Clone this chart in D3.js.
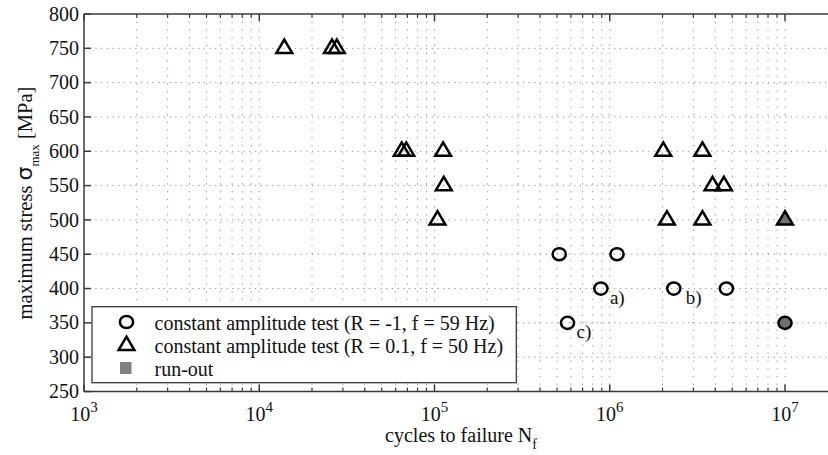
<!DOCTYPE html>
<html>
<head>
<meta charset="utf-8">
<script src="https://cdn.jsdelivr.net/npm/d3@7"></script>
<style>
  body { margin: 0; background: #fff; }
  svg { display: block; }
  text { font-family: "Liberation Serif", "Times New Roman", serif; fill: #111; }
</style>
</head>
<body>
<script>
// R = -1, f = 59 Hz
var circleCycles = [5.15e5, 1.1e6, 8.9e5, 2.32e6, 4.63e6, 5.74e5];
var circleStress = [450, 450, 400, 400, 400, 350];
var circleNotes = ["", "", "a)", "b)", "", "c)"];
// R = 0.1, f = 50 Hz
var triCycles = [1.39e4, 2.6e4, 2.77e4, 6.5e4, 6.9e4, 1.12e5, 1.13e5, 1.04e5, 2.02e6, 3.38e6, 3.86e6, 4.48e6, 2.12e6, 3.38e6];
var triStress = [750, 750, 750, 600, 600, 600, 550, 500, 600, 600, 550, 550, 500, 500];
// run-outs
var runoutCircle = [[1e7, 350]];
var runoutTri = [[1e7, 500]];

var yTicks = [250, 300, 350, 400, 450, 500, 550, 600, 650, 700, 750, 800];
var xDecades = [1e3, 1e4, 1e5, 1e6, 1e7];
var legendLabels = ["constant amplitude test (R = -1, f = 59 Hz)",
                    "constant amplitude test (R = 0.1, f = 50 Hz)",
                    "run-out"];

var width = 828, height = 455;
var mLeft = 84, mRight = 828, mTop = 14, mBottom = 391.5;
var fs = 20;

var svg = d3.select("body").append("svg").attr("width", width).attr("height", height);

var x = d3.scaleLog().domain([1e3, Math.pow(10, 7 + (mRight - 785) / 175.25)]).range([mLeft, mRight]);
var y = d3.scaleLinear().domain([250, 800]).range([mBottom, mTop]);

// minor tick values
var minors = [];
for (var d = 0; d < 4; d++) {
  for (var m = 2; m <= 9; m++) minors.push(m * xDecades[d]);
}

var grid = svg.append("g").attr("id", "grid");
grid.selectAll(".vgrid")
  .data(minors.concat(xDecades.slice(1)))
  .enter().append("line")
  .attr("x1", function(v) { return x(v); }).attr("x2", function(v) { return x(v); })
  .attr("y1", mTop).attr("y2", mBottom)
  .attr("stroke", "#8f8f8f").attr("stroke-width", 1)
  .attr("stroke-dasharray", "1.2,6.5");
grid.selectAll(".hgrid")
  .data(yTicks.slice(1, -1))
  .enter().append("line")
  .attr("x1", mLeft).attr("x2", mRight)
  .attr("y1", function(v) { return y(v); }).attr("y2", function(v) { return y(v); })
  .attr("stroke", "#8f8f8f").attr("stroke-width", 1)
  .attr("stroke-dasharray", "1.2,4.5");

// axes
var axes = svg.append("g").attr("stroke", "#3a3a3a").attr("stroke-width", 1.5);
axes.append("line").attr("x1", mLeft).attr("x2", mRight).attr("y1", mTop).attr("y2", mTop);
axes.append("line").attr("x1", mLeft).attr("x2", mRight).attr("y1", mBottom).attr("y2", mBottom);
axes.append("line").attr("x1", mLeft).attr("x2", mLeft).attr("y1", mTop).attr("y2", mBottom);

[mTop, mBottom].forEach(function(yy) {
  var dir = yy == mTop ? 1 : -1;
  axes.selectAll(null).data(minors).enter().append("line")
    .attr("x1", function(v) { return x(v); }).attr("x2", function(v) { return x(v); })
    .attr("y1", yy).attr("y2", yy + dir * 4).attr("stroke-width", 1.2);
  axes.selectAll(null).data(xDecades).enter().append("line")
    .attr("x1", function(v) { return x(v); }).attr("x2", function(v) { return x(v); })
    .attr("y1", yy).attr("y2", yy + dir * 7).attr("stroke-width", 1.5);
});
axes.selectAll(null).data(yTicks).enter().append("line")
  .attr("x1", mLeft).attr("x2", mLeft + 7)
  .attr("y1", function(v) { return y(v); }).attr("y2", function(v) { return y(v); });

// tick labels
svg.selectAll(".ylab").data(yTicks).enter().append("text")
  .attr("class", "ylab")
  .attr("x", 79).attr("y", function(v) { return y(v); })
  .attr("text-anchor", "end").attr("dy", "0.33em")
  .attr("font-size", fs)
  .text(function(v) { return v; });

svg.selectAll(".xlab").data(xDecades).enter().append("text")
  .attr("class", "xlab")
  .attr("x", function(v) { return x(v); }).attr("y", 421)
  .attr("text-anchor", "middle")
  .attr("font-size", fs)
  .each(function(v) {
    var t = d3.select(this);
    t.append("tspan").text("10");
    t.append("tspan").attr("font-size", 15).attr("dy", -9.5).text(Math.round(Math.log10(v)));
  });

// axis titles
var xt = svg.append("text").attr("x", 461).attr("y", 441.5)
  .attr("text-anchor", "middle").attr("font-size", fs);
xt.append("tspan").text("cycles to failure N");
xt.append("tspan").attr("font-size", 14).attr("dy", 7).text("f");

var yt = svg.append("text").attr("text-anchor", "middle").attr("font-size", 20.5)
  .attr("transform", "translate(32,203) rotate(-90)");
yt.append("tspan").text("maximum stress ");
yt.append("tspan").attr("font-family", "DejaVu Sans").attr("font-size", 22).text("σ");
yt.append("tspan").attr("font-size", 13).attr("dy", 7).text("max");
yt.append("tspan").attr("dy", -7).text(" [MPa]");

// markers
var triPath = "M0,-8.8L7.9,4.6L-7.9,4.6Z";
function drawCircle(g, cx, cy, fill) {
  g.append("ellipse").attr("cx", cx).attr("cy", cy).attr("rx", 6.6).attr("ry", 6.1)
    .attr("fill", fill).attr("stroke", "#000").attr("stroke-width", 2.5);
}
function drawTri(g, cx, cy, fill) {
  g.append("path").attr("d", triPath).attr("transform", "translate(" + cx + "," + cy + ")")
    .attr("fill", fill).attr("stroke", "#000").attr("stroke-width", 2.5).attr("stroke-linejoin", "miter");
}

var pts = svg.append("g");
triCycles.forEach(function(c, i) { drawTri(pts, x(c), y(triStress[i]), "none"); });
circleCycles.forEach(function(c, i) { drawCircle(pts, x(c), y(circleStress[i]), "none"); });
runoutTri.forEach(function(p) { drawTri(pts, x(p[0]), y(p[1]), "#707070"); });
runoutCircle.forEach(function(p) { drawCircle(pts, x(p[0]), y(p[1]), "#707070"); });

circleCycles.forEach(function(c, i) {
  if (!circleNotes[i]) return;
  svg.append("text").attr("font-size", 19)
    .attr("x", x(c) + (circleNotes[i] == "b)" ? 12 : 9))
    .attr("y", y(circleStress[i]) + 15)
    .text(circleNotes[i]);
});

// legend
var lg = svg.append("g");
lg.append("rect").attr("x", 92).attr("y", 306.7).attr("width", 424.3).attr("height", 76)
  .attr("fill", "#fff").attr("stroke", "#3a3a3a").attr("stroke-width", 1.3);
var baselines = [330, 353, 375.5];
drawCircle(lg, 126.5, 322, "none");
drawTri(lg, 126.5, 345.5, "none");
lg.append("rect").attr("x", 120).attr("y", 362).attr("width", 11.5).attr("height", 12).attr("fill", "#808080");
legendLabels.forEach(function(s, i) {
  lg.append("text").attr("x", 154.5).attr("y", baselines[i]).attr("font-size", fs).text(s);
});
</script>
</body>
</html>
